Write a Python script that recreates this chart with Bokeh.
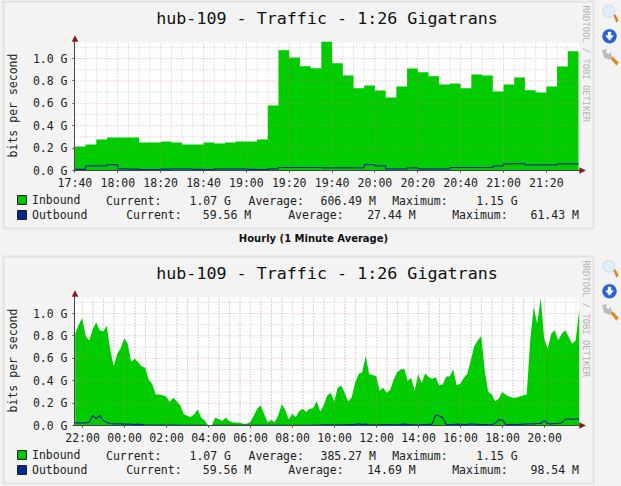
import math
from bokeh.plotting import figure
from bokeh.layouts import column
from bokeh.embed import file_html
from bokeh.resources import INLINE
from bokeh.models import (Label, Legend, LegendItem, BoxAnnotation, PolyAnnotation,
                          FixedTicker, Range1d, ColumnDataSource)

TITLE = "hub-109 - Traffic - 1:26 Gigatrans"
CAPTION = "Hourly (1 Minute Average)"
WATERMARK = "RRDTOOL / TOBI OETIKER"
Y_TICKS = [0.0, 0.2, 0.4, 0.6, 0.8, 1.0]
Y_MINOR = [0.1, 0.3, 0.5, 0.7, 0.9, 1.1]
Y_LABELS = ["0.0 G", "0.2 G", "0.4 G", "0.6 G", "0.8 G", "1.0 G"]

# Hourly graph: one value per 5 minutes, first bin at 17:40
hourly_step_min = 5
hourly_in = [.214, .232, .277, .295, .295, .295, .25, .25, .259, .25, .232, .232, .25, .241, .25, .259,
             .259, .277, .58, 1.074, 1.01, .93, .914, 1.15, .958, .848, .735, .759, .714, .652, .75, .91,
             .878, .842, .768, .777, .735, .857, .848, .705, .768, .83, .717, .696, .75, .929, 1.065]
hourly_out = [.01, .042, .042, .052, .015, .012, .008, .008, .012, .015, .015, .01, .008, .014, .014, .014,
              .01, .008, .015, .027, .027, .027, .027, .024, .024, .024, .024, .053, .042, .015, .015, .024,
              .015, .015, .015, .027, .027, .027, .027, .042, .06, .061, .05, .05, .05, .06, .06]
hourly_ticks = [0, 20, 40, 60, 80, 100, 120, 140, 160, 180, 200, 220]
hourly_tick_labels = ["17:40", "18:00", "18:20", "18:40", "19:00", "19:20", "19:40", "20:00", "20:20",
                      "20:40", "21:00", "21:20"]
hourly_minor = [5, 10, 15, 25, 30, 35, 45, 50, 55, 65, 70, 75, 85, 90, 95, 105, 110, 115, 125, 130, 135,
                145, 150, 155, 165, 170, 175, 185, 190, 195, 205, 210, 215, 225, 230]

# Daily graph: one value per 10 minutes, first sample at 21:39
daily_step_min = 10
daily_in = [.82, .90, .96, .80, .76, .86, .92, .85, .84, .89, .68, .53, .64, .69, .78, .73, .57, .595, .565,
            .527, .515, .41, .37, .277, .277, .27, .26, .21, .247, .217, .18, .10, .086, .075, .10, .143,
            .07, .045, 0, 0, .07, .057, .04, .07, .04, .027, .027, .024,
            .015, .015, .03, .087, .15, .18, .10, .03, .05, .03, .09, .187, .14, .054, .104, .074, .128, .15,
            .12, .15, .155, .217, .125, .18, .268, .29, .214, .336, .357, .29, .214, .25, .387, .46, .476,
            .62, .46, .452, .44, .31, .336, .29, .32, .41, .476, .50, .506, .40,
            .425, .31, .46, .38, .467, .43, .417, .43, .357, .366, .437, .437, .50, .357, .372, .425, .46,
            .58, .705, .76, .80, .49, .30, .28, .217, .238, .298, .274, .26, .247, .247, .26, .268, .277,
            .76, 1.057, .908, 1.14, .774, .685, .82, .85, .76, .82, .85, .79, .73, .76, 1.03]
daily_out = [.024, .024, .024, .024, .03, .09, .06, .09, .045, .028, .018, .015, .015, .015, .012, .012, .012,
             .008, .012, .008, .004, .004, .004, .004, .004, .004, .004, .004, .003, .003, .002, .002, .001,
             .001, .001, .001, .001, .001, 0, 0, .001, .001, .001, .001, .001, .001, .001, .001,
             .001, .001, .001, .001, .001, .001, .001, .001, .001, .001, .001, .001, .001, .001, .001, .001,
             .001, .001, .001, .001, .003, .003, .003, .006, .006, .006, .006, .006, .006, .006, .008, .008,
             .01, .015, .008, .012, .008, .006, .006, .006, .008, .008, .008, .006, .006, .01, .012, .008,
             .008, .006, .006, .008, .008, .01, .012, .095, .085, .07, .01, .008, .008, .012, .01, .008, .01,
             .015, .012, .01, .008, .008, .006, .006, .02, .05, .05, .01, .008, .01, .008, .01, .012, .015,
             .015, .015, .018, .018, .045, .018, .015, .018, .02, .025, .055, .06, .055, .058, .06]
daily_ticks = [21, 141, 261, 381, 501, 621, 741, 861, 981, 1101, 1221, 1341]
daily_tick_labels = ["22:00", "00:00", "02:00", "04:00", "06:00", "08:00", "10:00", "12:00", "14:00",
                     "16:00", "18:00", "20:00"]
daily_minor = [t + m for t in daily_ticks for m in (-90, -60, -30, 30, 60, 90) if 0 < t + m < 1440]

hourly_rows = [["Current:", "1.07 G", "Average:", "606.49 M", "Maximum:", "1.15 G"],
               ["Current:", "59.56 M", "Average:", "27.44 M", "Maximum:", "61.43 M"]]
daily_rows = [["Current:", "1.07 G", "Average:", "385.27 M", "Maximum:", "1.15 G"],
              ["Current:", "59.56 M", "Average:", "14.69 M", "Maximum:", "98.54 M"]]
row_x = [[105.5, 189, 248, 320, 391.7, 475.7], [125.7, 202.3, 287.7, 366.7, 451.7, 530]]

W, LEFT, RIGHT = 621, 74, 578
MONO = "DejaVu Sans Mono"
IN_C, OUT_C = "#00cc00", "#002a97"
BG = "#f3f3f3"
PX_PER_G = 112


def build(height, ftop, fbot, ptop, pbot, xs, vin, vout, xmin, xmax, ticks, tlabels, minor, rows, caption, stepped):
    # The frame fills the whole canvas so that texts can lie round the plot area.
    per_px = (xmax - xmin) / (RIGHT - LEFT)
    ymax = (fbot - ftop) / PX_PER_G
    p = figure(width=W, height=height, output_backend="svg", toolbar_location=None,
               x_range=Range1d(xmin - LEFT * per_px, xmax + (W - RIGHT) * per_px),
               y_range=Range1d(-(height - fbot) / PX_PER_G, fbot / PX_PER_G),
               min_border=0, background_fill_color=BG, border_fill_color=BG, outline_line_color=None)
    sx = lambda x: x
    sy = lambda y: height - y

    p.grid.visible = False
    p.add_layout(BoxAnnotation(left=sx(3), right=sx(593), top=sy(ptop), bottom=sy(pbot), left_units="screen",
                               right_units="screen", top_units="screen", bottom_units="screen", fill_alpha=0,
                               line_color="#bdbdbd", line_width=2, level="underlay"))
    p.add_layout(BoxAnnotation(left=xmin, right=xmax, bottom=0, top=ymax, fill_color="white", fill_alpha=1,
                               line_alpha=0, level="underlay"))

    def vlines(tk, **kw):
        p.segment(x0=tk, y0=[0] * len(tk), x1=tk, y1=[ymax] * len(tk), **kw)

    def hlines(tk, **kw):
        p.segment(x0=[xmin] * len(tk), y0=tk, x1=[xmax] * len(tk), y1=tk, **kw)

    minor_style = dict(line_color="#c9c9c9", line_dash="1 2", line_width=1, level="glyph")
    major_style = dict(line_color="#d87878", line_alpha=0.6, line_dash="1 2", line_width=1, level="overlay")
    vlines(minor, **minor_style)
    hlines(Y_MINOR, **minor_style)

    if stepped:
        src = ColumnDataSource(dict(x=xs + [xs[-1] + (xs[1] - xs[0])], i=vin + [vin[-1]], o=vout + [vout[-1]],
                                    z=[0] * (len(vin) + 1)))
        p.varea_step(x="x", y1="z", y2="i", source=src, step_mode="after", fill_color=IN_C)
        p.step(x="x", y="o", source=src, mode="after", line_color=OUT_C, line_width=1.2)
    else:
        src = ColumnDataSource(dict(x=xs, i=vin, o=vout, z=[0] * len(vin)))
        p.varea(x="x", y1="z", y2="i", source=src, fill_color=IN_C)
        p.line(x="x", y="o", source=src, line_color=OUT_C, line_width=1.2)
    vlines(ticks, **major_style)
    hlines(Y_TICKS[1:], **major_style)

    for ax in (p.xaxis[0], p.yaxis[0]):
        ax.axis_line_color = "#444444"
        ax.major_tick_line_color = "#444444"
        ax.major_tick_in = 0
        ax.major_tick_out = 2
        ax.minor_tick_line_color = None
        ax.major_label_text_font = MONO
        ax.major_label_text_font_size = "11.5px"
        ax.major_label_text_color = "#222222"
    p.xaxis[0].fixed_location = 0
    p.xaxis[0].bounds = (xmin, xmax + 2 * per_px)
    p.xaxis[0].ticker = FixedTicker(ticks=ticks)
    p.xaxis[0].major_label_overrides = dict(zip(ticks, tlabels))
    p.xaxis[0].major_label_standoff = 3
    p.yaxis[0].fixed_location = xmin
    p.yaxis[0].bounds = (0, ymax + 2 / PX_PER_G)
    p.yaxis[0].ticker = FixedTicker(ticks=Y_TICKS)
    p.yaxis[0].major_label_overrides = dict(zip(Y_TICKS, Y_LABELS))
    p.yaxis[0].major_label_standoff = 5
    p.yaxis[0].axis_label = "bits per second"
    p.yaxis[0].axis_label_text_font = MONO
    p.yaxis[0].axis_label_text_font_size = "11.5px"
    p.yaxis[0].axis_label_text_font_style = "normal"
    p.yaxis[0].axis_label_text_color = "#222222"
    p.yaxis[0].axis_label_standoff = 10

    def poly(pts, fill, line=None):
        p.add_layout(PolyAnnotation(xs=[sx(a) for a, _ in pts], ys=[sy(b) for _, b in pts], xs_units="screen",
                                    ys_units="screen", fill_color=fill, fill_alpha=1, line_color=line or fill,
                                    line_width=1))

    red = "#7d1a1a"
    poly([(74.5, ftop - 7), (71.5, ftop - 1), (77.5, ftop - 1)], red)
    poly([(RIGHT + 7, fbot), (RIGHT + 1, fbot - 3), (RIGHT + 1, fbot + 3)], red)

    def label(x, y, text, size="11.5px", font=MONO, align="left", color="#222222", style="normal", angle=0):
        p.add_layout(Label(x=sx(x), y=sy(y), x_units="screen", y_units="screen", text=text, text_font=font,
                           text_font_size=size, text_align=align, text_baseline="middle", text_color=color,
                           text_font_style=style, angle=angle))

    label(326.5, ptop + 16, TITLE, size="16.7px", align="center", color="#111111")
    label(585.5, ptop + 4, WATERMARK, size="8.8px", color="#b5b5b5", angle=-math.pi / 2)
    for r, row in enumerate(rows):
        for x, t in zip(row_x[r], row):
            label(x, fbot + 30.5 + r * 14.3, t)
    if caption:
        label(313, 237.5, caption, size="10px", font="DejaVu Sans", align="center", style="bold", color="#111111")

    # The legend's own swatches take their look from these two off-view bars.
    off = xmin - 2000 * per_px
    s1 = p.vbar(x=[off], bottom=[-50], top=[-49], width=1, fill_color=IN_C, line_color="#111111")
    s2 = p.vbar(x=[off], bottom=[-50], top=[-49], width=1, fill_color=OUT_C, line_color="#111111")
    leg = Legend(items=[LegendItem(label="Inbound", renderers=[s1]), LegendItem(label="Outbound", renderers=[s2])],
                 location=(16, height - fbot - 51.5), padding=0, margin=0, spacing=1, glyph_width=11, glyph_height=11,
                 label_height=11, label_standoff=5, label_text_font=MONO, label_text_font_size="11.5px",
                 label_text_color="#222222", background_fill_alpha=0, border_line_alpha=0)
    p.add_layout(leg)

    def disc(cx, cy, r):
        return [(cx + r * math.cos(i * math.pi / 12), cy + r * math.sin(i * math.pi / 12)) for i in range(24)]

    d = ptop - 1
    poly([(613, 15 + d), (615, 14 + d), (618, 20 + d), (616, 22 + d)], "#d9822b")
    poly(disc(608.3, 10.7 + d, 6), "#dfeefb", "#8aa4b8")
    poly(disc(609, 35.7 + d, 7), "#2a63d8", "#1d47a8")
    poly([(605, 35 + d), (607.5, 35 + d), (607.5, 31.5 + d), (610.5, 31.5 + d), (610.5, 35 + d), (613, 35 + d), (609, 40 + d)],
         "#ffffff")
    poly([(610, 58 + d), (612, 56 + d), (618, 62 + d), (616, 65 + d)], "#e08a1e")
    poly([(602, 50 + d), (606, 49 + d), (605, 52 + d), (608, 54 + d), (610, 52 + d), (611, 56 + d), (609, 59 + d), (604, 57 + d)],
         "#b9bec6", "#8d939b")
    return p


hourly_x = [i * hourly_step_min for i in range(len(hourly_in))]
daily_x = [i * daily_step_min for i in range(len(daily_in))]

top = build(245, 42, 170, 1, 228, hourly_x, hourly_in, hourly_out, -0.2, 235, hourly_ticks, hourly_tick_labels,
            hourly_minor, hourly_rows, CAPTION, True)
bottom = build(241, 52, 180, 11, 238, daily_x, daily_in, daily_out, -2, 1438, daily_ticks, daily_tick_labels,
               daily_minor, daily_rows, None, False)

page = column(top, bottom, spacing=0, styles={"background-color": BG})
open("out.html", "w").write(file_html(page, INLINE))
